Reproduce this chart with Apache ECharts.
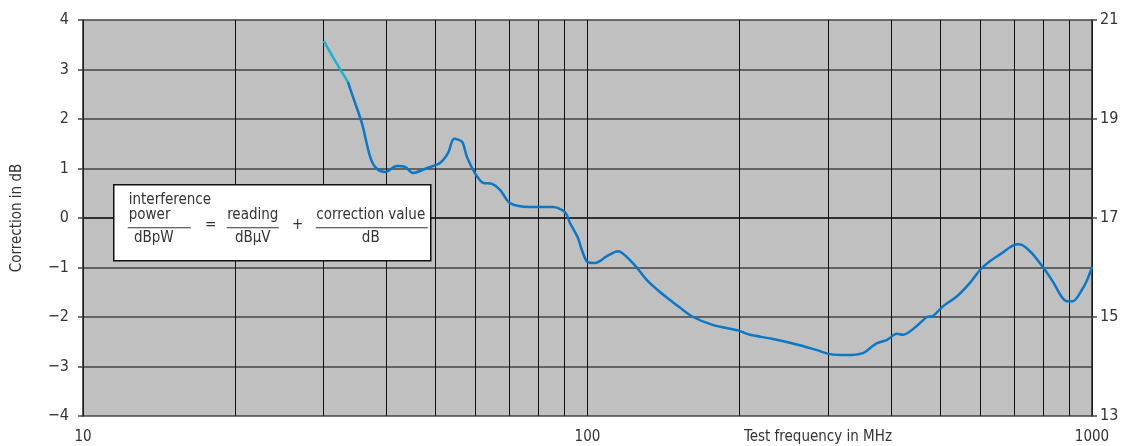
<!DOCTYPE html>
<html>
<head>
<meta charset="utf-8">
<script src="https://cdn.jsdelivr.net/npm/echarts@6/dist/echarts.min.js"></script>
<style>
  html, body { margin: 0; padding: 0; background: #fff; }
  #main { width: 1128px; height: 446px; }
</style>
</head>
<body>
<div id="main"></div>
<script>
// frequency (MHz) and correction (dB)
const startFreq = [30, 31.5, 33.5]
const startCorr = [3.58, 3.2, 2.75]

const freq = [33.5, 34.3, 35.7, 37.1, 38.1, 39.7, 41.9, 43.5, 45.1, 48.1, 51.0, 52.9, 54.4, 56.4, 57.7, 59.8, 62.1, 64.7, 67.1,
  70.2, 76.9, 85.4, 90.2, 92.3, 95.7, 97.5, 100, 103.5, 109.3, 114.9, 123, 131, 139, 147.6, 152, 162, 177, 200,
  210, 232, 263.6, 285, 302.6, 326.8, 351.6, 363, 375, 392.6, 410, 422, 449.5, 470.8, 484, 507, 540, 573, 600,
  628, 663, 688, 710, 729, 760, 807, 837, 872, 892, 916, 955, 982, 1000]
const corr = [2.75, 2.44, 1.92, 1.23, 1.01, 0.93, 1.05, 1.03, 0.91, 1.01, 1.11, 1.31, 1.6, 1.54, 1.23, 0.91, 0.71, 0.69, 0.57,
  0.3, 0.22, 0.22, 0.12, -0.1, -0.4, -0.65, -0.89, -0.91, -0.77, -0.67, -0.91, -1.25, -1.49, -1.7, -1.8, -2.0, -2.16, -2.28,
  -2.36, -2.44, -2.57, -2.67, -2.75, -2.77, -2.73, -2.63, -2.53, -2.46, -2.34, -2.36, -2.18, -2.0, -1.98, -1.78, -1.58, -1.31, -1.05,
  -0.87, -0.71, -0.59, -0.53, -0.55, -0.71, -1.05, -1.29, -1.6, -1.68, -1.68, -1.45, -1.21, -0.99]

// minor vertical grid lines
const minorFreq = [20, 30, 40, 50, 60, 70, 80, 90, 200, 300, 400, 500, 600, 700, 800, 900]

const font = '"Liberation Sans Narrow", "DejaVu Sans Condensed", "Liberation Sans", sans-serif'
const minus = v => (v < 0 ? '\u2212' + Math.abs(v) : String(v))

// formula box pieces
const txt = (x, y, s, align) => ({
  type: 'text', x: x, y: y, z: 100,
  style: { text: s, font: '15px ' + font, fill: '#333', align: align || 'left', verticalAlign: 'top' }
})
const bar = (x1, x2) => ({
  type: 'line', z: 100, shape: { x1: x1, y1: 43, x2: x2, y2: 43 }, style: { stroke: '#333', lineWidth: 1.2 }
})

const chart = echarts.init(document.getElementById('main'))
const option = {
  animation: false,
  backgroundColor: '#fff',
  textStyle: { fontFamily: font },
  grid: {
    left: 83, right: 36, top: 20, bottom: 30,
    containLabel: false, outerBoundsMode: 'none',
    show: true, backgroundColor: '#c0c0c0', borderWidth: 0
  },
  xAxis: {
    type: 'log',
    logBase: 10,
    min: 10,
    max: 1000,
    axisLine: { show: true, lineStyle: { color: '#222', width: 1.5 } },
    axisTick: { show: false },
    axisLabel: { fontSize: 15, color: '#333', fontFamily: font, margin: 14, formatter: v => String(v) },
    splitLine: { show: true, lineStyle: { color: '#111', width: 1 } }
  },
  yAxis: [
    {
      type: 'value',
      min: -4,
      max: 4,
      interval: 1,
      axisLine: { show: true, lineStyle: { color: '#222', width: 1.5 } },
      axisTick: { show: true, length: 5, lineStyle: { color: '#444', width: 1.5 } },
      axisLabel: { fontSize: 16, color: '#333', fontFamily: font, margin: 14, formatter: minus },
      splitLine: { show: true, lineStyle: { color: '#444', width: 1.5 } },
      name: 'Correction in dB',
      nameLocation: 'middle',
      nameGap: 58,
      nameTextStyle: { fontSize: 15, color: '#333', fontFamily: font }
    },
    {
      type: 'value',
      min: 13,
      max: 21,
      interval: 2,
      position: 'right',
      axisLine: { show: true, lineStyle: { color: '#222', width: 1.5 } },
      axisTick: { show: true, length: 5, lineStyle: { color: '#444', width: 1.5 } },
      axisLabel: { fontSize: 16, color: '#333', fontFamily: font, margin: 8 },
      splitLine: { show: false }
    }
  ],
  series: [
    {
      type: 'line',
      data: startFreq.map((f, i) => [f, startCorr[i]]),
      showSymbol: false,
      smooth: 0.3,
      lineStyle: { color: '#17b4cf', width: 2.5 },
      z: 5
    },
    {
      type: 'line',
      data: freq.map((f, i) => [f, corr[i]]),
      showSymbol: false,
      smooth: 0.3,
      lineStyle: { color: '#0a78c8', width: 2.5 },
      z: 5,
      markLine: {
        silent: true,
        symbol: 'none',
        label: { show: false },
        lineStyle: { color: '#111', width: 1, type: 'solid' },
        data: minorFreq.map(f => ({ xAxis: f }))
      }
    }
  ],
  graphic: [
    {
      // x axis title, sits right of the 100 label like in the original
      type: 'text',
      x: 818,
      y: 437,
      style: { text: 'Test frequency in MHz', font: '15px ' + font, fill: '#333', align: 'center', verticalAlign: 'middle' }
    },
    {
      type: 'group',
      left: 113,
      top: 184,
      z: 100,
      children: [
        { type: 'rect', z: 100, shape: { x: 0, y: 0, width: 317, height: 76 }, style: { fill: '#fff', stroke: '#111', lineWidth: 1.5 } },
        txt(15, 8, 'interference'),
        txt(15, 23, 'power'),
        bar(14, 77),
        txt(40, 46, 'dBpW', 'center'),
        txt(97, 33, '=', 'center'),
        txt(139, 23, 'reading', 'center'),
        bar(113, 165),
        txt(139, 46, 'dBμV', 'center'),
        txt(184, 33, '+', 'center'),
        txt(257, 23, 'correction value', 'center'),
        bar(202, 314),
        txt(257, 46, 'dB', 'center')
      ]
    }
  ]
}
chart.setOption(option)
</script>
</body>
</html>
